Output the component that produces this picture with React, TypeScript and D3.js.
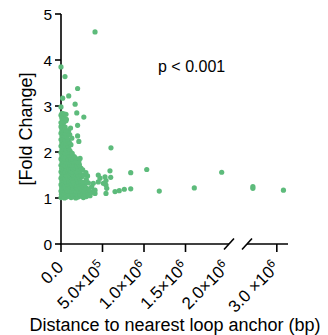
import React from "react";
import * as d3 from "d3";

// [distance to nearest loop anchor (kb), fold change]
const clusterPoints: [number, number][] = [
  [0,1.01],[18,1.03],[42,1.00],[66,1.02],[95,1.04],[122,1.01],[150,1.03],[178,1.00],[205,1.02],[238,1.04],[270,1.01],[305,1.03],[350,1.05],
  [5,1.08],[30,1.10],[55,1.07],[84,1.09],[110,1.11],[138,1.08],[165,1.10],[195,1.07],[222,1.09],[255,1.11],[288,1.08],[322,1.10],[365,1.12],[410,1.10],
  [0,1.15],[22,1.17],[48,1.14],[76,1.16],[102,1.18],[130,1.15],[158,1.17],[185,1.14],[212,1.16],[245,1.18],[280,1.15],[318,1.17],[395,1.16],
  [8,1.22],[35,1.24],[60,1.21],[88,1.23],[115,1.25],[142,1.22],[170,1.24],[198,1.21],[228,1.23],[262,1.25],[300,1.22],[340,1.20],
  [0,1.29],[25,1.31],[50,1.28],[78,1.30],[105,1.32],[132,1.29],[160,1.31],[188,1.28],[218,1.30],[250,1.32],[285,1.29],[330,1.33],
  [10,1.36],[38,1.38],[64,1.35],[92,1.37],[118,1.39],[146,1.36],[175,1.38],[205,1.35],[235,1.37],[268,1.34],[305,1.40],
  [0,1.43],[26,1.45],[52,1.42],[80,1.44],[108,1.46],[135,1.43],[162,1.45],[192,1.42],[222,1.44],[255,1.47],[320,1.48],
  [12,1.50],[40,1.52],[66,1.49],[94,1.51],[120,1.53],[148,1.50],[178,1.52],[210,1.49],[240,1.51],[275,1.50],[300,1.55],
  [0,1.57],[28,1.59],[54,1.56],[82,1.58],[110,1.60],[138,1.57],[165,1.59],[195,1.56],[228,1.58],[262,1.61],
  [8,1.64],[36,1.66],[62,1.63],[90,1.65],[116,1.67],[144,1.64],[172,1.66],[205,1.63],[240,1.65],
  [0,1.71],[24,1.73],[50,1.70],[78,1.72],[104,1.74],[132,1.71],[160,1.73],[190,1.70],[222,1.72],
  [12,1.78],[38,1.80],[64,1.77],[92,1.79],[120,1.81],[150,1.78],[180,1.80],[215,1.78],
  [0,1.85],[26,1.87],[52,1.84],[80,1.86],[108,1.88],[140,1.85],[175,1.87],[230,1.86],
  [10,1.92],[36,1.94],[62,1.91],[90,1.93],[125,1.95],[160,1.90],
  [0,1.99],[24,2.01],[50,1.98],[78,2.00],[110,2.02],[135,1.97],
  [12,2.06],[38,2.08],[64,2.05],[95,2.07],
  [0,2.13],[26,2.15],[52,2.12],[80,2.14],[120,2.16],
  [10,2.20],[36,2.22],[62,2.19],[100,2.21],
  [0,2.27],[24,2.29],[50,2.26],[78,2.28],[130,2.30],
  [12,2.34],[38,2.36],[66,2.33],[105,2.38],
  [0,2.41],[26,2.43],[54,2.40],[90,2.45],
  [10,2.48],[36,2.50],[64,2.47],[115,2.52],
  [0,2.55],[24,2.57],[50,2.54],
  [8,2.62],[34,2.64],[0,2.64],[20,2.67],[60,2.68],
  [10,2.74],[40,2.73],[65,2.71],[0,2.80],[12,2.84],[35,2.83],[60,2.82],
];

const scatterPoints: [number, number][] = [
  [449,1.50],[470,1.43],[530,1.46],[542,1.38],[590,1.59],[599,1.45],[542,1.28],[551,1.21],
  [542,1.10],[651,1.14],[702,1.16],[763,1.19],[840,1.20],[840,1.55],[1033,1.62],[1184,1.15],
  [389,1.32],[370,1.25],[410,1.17],[449,1.35],[510,1.32],[602,2.09],[1606,1.22],[1936,1.56],
];

const outlierPoints: [number, number][] = [
  [410,4.61],[0,3.85],[48,3.64],[200,3.38],[93,3.22],[20,3.17],[170,3.04],[0,2.98],
  [190,2.85],[275,2.76],[200,2.58],[200,2.35],[215,2.23],
];

const farPoints: [number, number][] = [
  [2711,1.25],[2711,1.21],[3080,1.17],
];

const yTicks = [0, 1, 2, 3, 4, 5];
const xTickValues = [0, 5e5, 1e6, 1.5e6, 2e6, 3e6];
const xTickMantissa = ["0.0", "5.0×10", "1.0×10", "1.5×10", "2.0×10", "3.0 ×10"];
const xTickExponent = ["", "5", "6", "6", "6", "6"];
const xTickHasMark = [true, true, true, true, false, true];

const FONT = "'Liberation Sans', Arial, sans-serif";
const GREEN = "#5dbb7b";

export default function App() {
  const y = d3.scaleLinear().domain([0, 5]).range([244, 14]);
  const x1 = d3.scaleLinear().domain([0, 2.024e6]).range([61, 229]);
  const x2 = d3.scaleLinear().domain([2.64e6, 3.135e6]).range([247, 288]);
  const x = (d: number) => (d <= 2.3e6 ? x1(d) : x2(d));

  const all = [...clusterPoints, ...scatterPoints, ...outlierPoints, ...farPoints];
  const axisY = y(0);
  const [r1a, r1b] = x1.range();
  const [r2a, r2b] = x2.range();

  return (
    <svg width={328} height={335} style={{ position: "absolute", left: 0, top: 0 }} fontFamily={FONT}>
      <rect width={328} height={335} fill="#fff" />
      {/* y axis */}
      <line x1={r1a} x2={r1a} y1={y(5)} y2={axisY} stroke="#000" strokeWidth={1.6} />
      {yTicks.map((t) => (
        <g key={t}>
          <line x1={r1a - 6} x2={r1a} y1={y(t)} y2={y(t)} stroke="#000" strokeWidth={1.6} />
          <text x={r1a - 9} y={y(t)} dy="0.36em" textAnchor="end" fontSize={15.5}>{t}</text>
        </g>
      ))}
      {/* x axis segments */}
      <line x1={r1a - 1} x2={r1b} y1={axisY} y2={axisY} stroke="#000" strokeWidth={1.6} />
      <line x1={r2a} x2={r2b} y1={axisY} y2={axisY} stroke="#000" strokeWidth={1.6} />
      <line x1={r1b - 5} x2={r1b + 5} y1={axisY + 5.5} y2={axisY - 5.5} stroke="#000" strokeWidth={1.6} />
      <line x1={r2a - 5} x2={r2a + 5} y1={axisY + 5.5} y2={axisY - 5.5} stroke="#000" strokeWidth={1.6} />
      {xTickValues.map((v, i) => {
        const px = x(v);
        return (
          <g key={v}>
            {xTickHasMark[i] && (
              <line x1={px} x2={px} y1={axisY} y2={axisY + 8} stroke="#000" strokeWidth={1.6} />
            )}
            <text
              transform={`translate(${px + 3.5},${axisY + 24.3}) rotate(-45)`}
              textAnchor="end"
              fontSize={17}
            >
              {xTickMantissa[i]}
              {xTickExponent[i] && (
                <tspan dy="-0.5em" fontSize={12}>{xTickExponent[i]}</tspan>
              )}
            </text>
          </g>
        );
      })}
      {/* points */}
      {all.map(([d, v], i) => (
        <circle key={i} cx={x(d * 1000)} cy={y(v)} r={2.6} fill={GREEN} />
      ))}
      <text x={158} y={72} fontSize={16}>p &lt; 0.001</text>
      <text transform="translate(32,129) rotate(-90)" textAnchor="middle" fontSize={18}>[Fold Change]</text>
      <text x={175} y={331} textAnchor="middle" fontSize={18}>Distance to nearest loop anchor (bp)</text>
    </svg>
  );
}
